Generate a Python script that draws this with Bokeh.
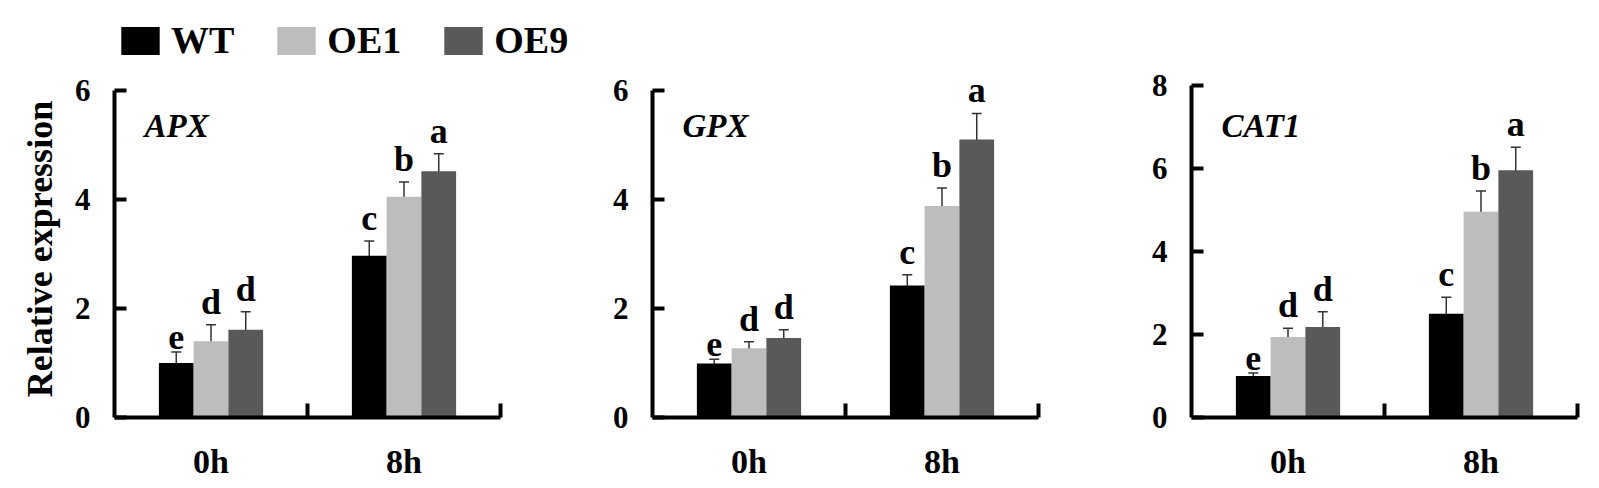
from bokeh.plotting import figure
from bokeh.models import (Range1d, LinearAxis, FixedTicker, ColumnDataSource, Whisker,
                          TeeHead, Label, Legend, LegendItem)
from bokeh.transform import dodge
from bokeh.layouts import row, column
from bokeh.embed import file_html
from bokeh.resources import INLINE

# ---------------- data ----------------
times = ["0h", "8h"]
genotypes = ["WT", "OE1", "OE9"]
colors = ["#000000", "#bdbdbd", "#595959"]

apx_wt = [1.00, 2.97]
apx_oe1 = [1.40, 4.05]
apx_oe9 = [1.61, 4.52]
apx_wt_err = [0.20, 0.27]
apx_oe1_err = [0.30, 0.27]
apx_oe9_err = [0.33, 0.32]

gpx_wt = [0.99, 2.42]
gpx_oe1 = [1.27, 3.88]
gpx_oe9 = [1.46, 5.10]
gpx_wt_err = [0.08, 0.20]
gpx_oe1_err = [0.12, 0.33]
gpx_oe9_err = [0.15, 0.48]

cat_wt = [1.00, 2.50]
cat_oe1 = [1.94, 4.96]
cat_oe9 = [2.18, 5.96]
cat_wt_err = [0.07, 0.40]
cat_oe1_err = [0.21, 0.50]
cat_oe9_err = [0.37, 0.55]

letters_wt = ["e", "c"]
letters_oe1 = ["d", "b"]
letters_oe9 = ["d", "a"]

apx_ticks = [0, 2, 4, 6]
gpx_ticks = [0, 2, 4, 6]
cat_ticks = [0, 2, 4, 6, 8]

FONT = "'Liberation Serif', 'Times New Roman', 'DejaVu Serif', serif"
BAR_W = 0.18
FRAME_W = 386
FRAME_H = 337
TOP = 17
LEG_H = 63


def make_panel(gene, means, errs, letters, yticks, px_per_unit, left, right,
               ylabel=None):
    yend = FRAME_H / px_per_unit
    p = figure(frame_width=FRAME_W, frame_height=FRAME_H,
               min_border_left=left, min_border_right=right,
               min_border_top=TOP, min_border_bottom=56,
               x_range=Range1d(0, len(times)), y_range=Range1d(0, yend),
               x_axis_type=None, y_axis_type=None,
               toolbar_location=None, output_backend="svg")
    p.outline_line_color = None
    p.xgrid.visible = False
    p.ygrid.visible = False

    xc = [i + 0.5 for i in range(len(times))]
    for j, g in enumerate(genotypes):
        m = means[j]
        e = errs[j]
        src = ColumnDataSource(dict(
            xc=xc, time=times, top=m,
            upper=[a + b for a, b in zip(m, e)],
            lower=[a - b for a, b in zip(m, e)],
            letter=letters[j]))
        off = (j - (len(genotypes) - 1) / 2) * BAR_W
        xd = dodge("xc", off, range=p.x_range)
        p.vbar(x=xd, top="top", bottom=0, width=BAR_W, source=src,
               fill_color=colors[j], line_color=None)
        w = Whisker(source=src, base=xd, upper="upper", lower="lower",
                    dimension="height", line_color="#333333", line_width=1.5,
                    upper_head=TeeHead(size=10, line_color="#333333", line_width=1.5),
                    lower_head=TeeHead(size=10, line_color="#333333", line_width=1.5))
        p.add_layout(w)
        p.text(x=xd, y="upper", text="letter", source=src,
               text_align="center", text_baseline="bottom", y_offset=-3,
               text_font=FONT, text_font_style="bold", text_font_size="36px",
               text_color="#000000")

    # x axis: labels at category centres, ticks at category boundaries
    xax = LinearAxis(ticker=FixedTicker(ticks=xc,
                                        minor_ticks=[i + 1 for i in range(len(times))]),
                     major_label_overrides={c: t for c, t in zip(xc, times)},
                     axis_line_width=4, axis_line_color="black",
                     major_tick_line_color=None,
                     minor_tick_in=14, minor_tick_out=0,
                     minor_tick_line_width=4, minor_tick_line_color="black",
                     major_label_standoff=19,
                     major_label_text_font=FONT, major_label_text_font_style="bold",
                     major_label_text_font_size="34px", major_label_text_color="black")
    p.add_layout(xax, "below")

    yax = LinearAxis(ticker=FixedTicker(ticks=yticks, minor_ticks=[]),
                     bounds=(yticks[0], yticks[-1]),
                     axis_line_width=4, axis_line_color="black",
                     major_tick_in=12, major_tick_out=0,
                     major_tick_line_width=4, major_tick_line_color="black",
                     minor_tick_line_color=None,
                     major_label_standoff=24,
                     major_label_text_font=FONT, major_label_text_font_style="bold",
                     major_label_text_font_size="31px", major_label_text_color="black")
    if ylabel:
        yax.axis_label = ylabel
        yax.axis_label_standoff = 12
        yax.axis_label_text_font = FONT
        yax.axis_label_text_font_style = "bold"
        yax.axis_label_text_font_size = "36px"
        yax.axis_label_text_color = "black"
    p.add_layout(yax, "left")

    p.add_layout(Label(x=30, y=FRAME_H - 45, x_units="screen", y_units="screen",
                       text=gene, text_baseline="middle", text_align="left",
                       text_font=FONT, text_font_style="bold italic",
                       text_font_size="33px", text_color="black"))
    return p


# legend strip above the panels
pl = figure(width=640, height=LEG_H, min_border_left=116, min_border_right=0,
            min_border_top=18, min_border_bottom=0,
            x_range=Range1d(0, 1), y_range=Range1d(0, 1),
            x_axis_type=None, y_axis_type=None,
            toolbar_location=None, output_backend="svg")
pl.outline_line_color = None
pl.xgrid.visible = False
pl.ygrid.visible = False
# zero-height bars: only their legend swatches are seen
leg_renderers = [pl.vbar(x=[0.5], top=[0], bottom=[0], width=0.0,
                         fill_color=c, line_color=None)
                 for c in colors]
lg = Legend(items=[LegendItem(label=g, renderers=[r])
                   for g, r in zip(genotypes, leg_renderers)],
            location="top_left", orientation="horizontal",
            margin=0, padding=0, border_line_color=None,
            background_fill_alpha=0,
            glyph_width=48, glyph_height=35, label_standoff=7, spacing=38,
            label_text_font=FONT, label_text_font_style="bold",
            label_text_font_size="38px", label_text_color="black")
pl.add_layout(lg)

p1 = make_panel("APX", [apx_wt, apx_oe1, apx_oe9],
                [apx_wt_err, apx_oe1_err, apx_oe9_err],
                [letters_wt, letters_oe1, letters_oe9],
                apx_ticks, 54.5, 114, 100, ylabel="Relative expression")
p2 = make_panel("GPX", [gpx_wt, gpx_oe1, gpx_oe9],
                [gpx_wt_err, gpx_oe1_err, gpx_oe9_err],
                [letters_wt, letters_oe1, letters_oe9],
                gpx_ticks, 54.5, 52, 101)
p3 = make_panel("CAT1", [cat_wt, cat_oe1, cat_oe9],
                [cat_wt_err, cat_oe1_err, cat_oe9_err],
                [letters_wt, letters_oe1, letters_oe9],
                cat_ticks, 41.5, 52, 6)

layout = column(pl, row(p1, p2, p3))
open("out.html", "w").write(file_html(layout, INLINE))
